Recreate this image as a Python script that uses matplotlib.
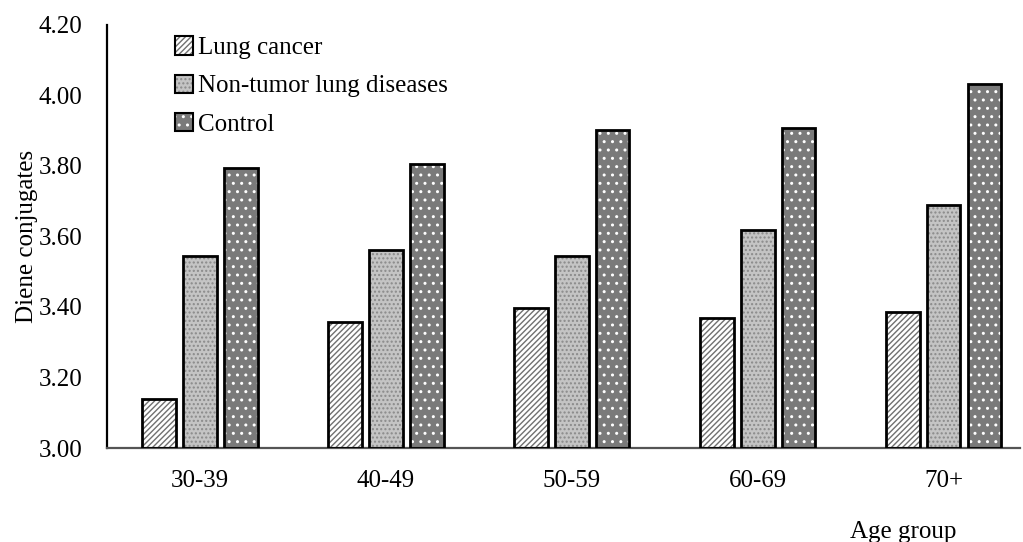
import numpy as np
import matplotlib.pyplot as plt

plt.rcParams['font.family'] = ['Liberation Serif', 'DejaVu Serif']
plt.rcParams['hatch.linewidth'] = 1.0

# Data
age_groups = ["30-39", "40-49", "50-59", "60-69", "70+"]
lung_cancer = [3.14, 3.357, 3.397, 3.369, 3.386]
non_tumor = [3.545, 3.562, 3.545, 3.618, 3.69]
control = [3.794, 3.806, 3.902, 3.908, 4.033]
series_names = ["Lung cancer", "Non-tumor lung diseases", "Control"]

fig = plt.figure(figsize=(10.23, 5.42), dpi=100)
ax = fig.add_axes([0.1046, 0.1734, 0.8924, 0.7806])

x = np.arange(len(age_groups))
w = 0.18
step = 0.22
styles = [
    dict(face="white", hatch="//////", hcol="#707070"),
    dict(face="#c4c4c4", hatch="....", hcol="#8a8a8a"),
    dict(face="#7a7a7a", hatch="..", hcol="white"),
]
handles = []
for i, (vals, st) in enumerate(zip([lung_cancer, non_tumor, control], styles)):
    pos = x + (i - 1) * step
    heights = np.array(vals) - 3.0
    # hatch layer
    ax.bar(pos, heights, w, bottom=3.0, color=st["face"], hatch=st["hatch"],
           edgecolor=st["hcol"], linewidth=0, zorder=2)
    # outline layer
    ax.bar(pos, heights, w, bottom=3.0, fill=False, edgecolor="black",
           linewidth=2.0, zorder=3)
    h1 = plt.Rectangle((0, 0), 1, 1, facecolor=st["face"], hatch=st["hatch"],
                       edgecolor=st["hcol"], linewidth=0)
    h2 = plt.Rectangle((0, 0), 1, 1, fill=False, edgecolor="black", linewidth=1.5)
    handles.append((h1, h2))

ax.set_ylim(3.0, 4.2)
ticks = np.arange(3.0, 4.21, 0.2)
ax.set_yticks(ticks)
ax.set_yticklabels([f"{v:.2f}" for v in ticks])
ax.set_xlim(-0.5, 4.41)
ax.set_xticks(x)
ax.set_xticklabels(age_groups)
ax.tick_params(length=0, labelsize=18)
ax.tick_params(axis="y", pad=18)
ax.tick_params(axis="x", pad=16)

for s in ["top", "right"]:
    ax.spines[s].set_visible(False)
ax.spines["left"].set_linewidth(1.6)
ax.spines["bottom"].set_linewidth(1.6)
ax.spines["bottom"].set_color("#555555")

ax.set_ylabel("Diene conjugates", fontsize=18, labelpad=0)
fig.text(0.883, 0.018, "Age group", fontsize=18, ha="center", va="center")

leg = ax.legend(handles, series_names, loc="upper left", bbox_to_anchor=(0.063, 0.997),
                frameon=False, fontsize=18, handlelength=0.75, handleheight=0.75,
                handletextpad=0.2, labelspacing=0.62, borderaxespad=0)

fig.savefig("out.png", dpi=100)
